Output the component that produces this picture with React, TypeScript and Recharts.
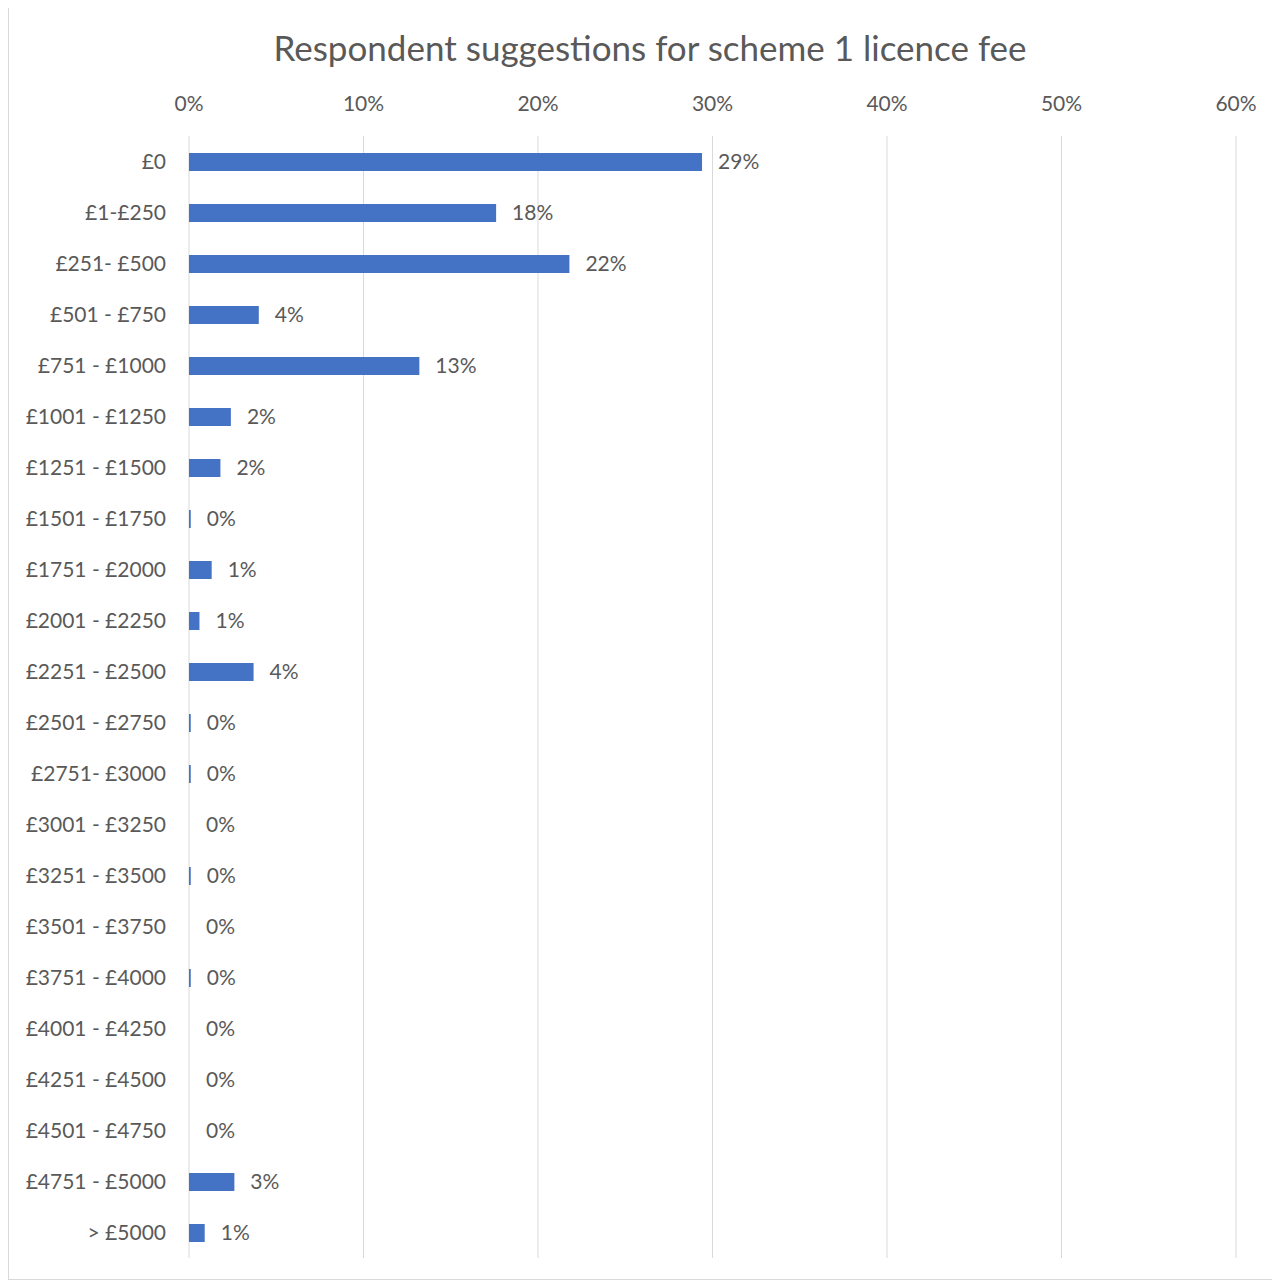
import { BarChart, Bar, XAxis, YAxis, CartesianGrid, LabelList, Cell } from "recharts";

const categories = [
  "£0",
  "£1-£250",
  "£251- £500",
  "£501 - £750",
  "£751 - £1000",
  "£1001 - £1250",
  "£1251 - £1500",
  "£1501 - £1750",
  "£1751 - £2000",
  "£2001 - £2250",
  "£2251 - £2500",
  "£2501 - £2750",
  "£2751- £3000",
  "£3001 - £3250",
  "£3251 - £3500",
  "£3501 - £3750",
  "£3751 - £4000",
  "£4001 - £4250",
  "£4251 - £4500",
  "£4501 - £4750",
  "£4751 - £5000",
  "> £5000",
];

// percent of respondents
const shares = [
  29.4, 17.6, 21.8, 4.0, 13.2, 2.4, 1.8, 0.1, 1.3, 0.6, 3.7, 0.1, 0.1, 0, 0.1, 0,
  0.1, 0, 0, 0, 2.6, 0.9,
];

const xTicks = [0, 10, 20, 30, 40, 50, 60];

const data = categories.map((name, i) => ({ name, share: shares[i] }));

const FONT = "Lato, 'Open Sans', sans-serif";
const TEXT = "#595959";

export default function App() {
  return (
    <div
      style={{
        position: "relative",
        marginTop: -3,
        width: 1270,
        height: 1273,
        border: "1px solid #d9d9d9",
        background: "#fff",
        fontFamily: FONT,
      }}
    >
      <div
        style={{
          position: "absolute",
          top: 20,
          left: 0,
          width: 1282,
          textAlign: "center",
          fontSize: 35,
          color: TEXT,
          whiteSpace: "nowrap",
        }}
      >
        Respondent suggestions for scheme 1 licence fee
      </div>
      <BarChart
        width={1270}
        height={1273}
        data={data}
        layout="vertical"
        margin={{ top: 90, right: 43, bottom: 21, left: 0 }}
        barSize={18}
      >
        <CartesianGrid horizontal={false} stroke="#d9d9d9" />
        <XAxis
          type="number"
          orientation="top"
          domain={[0, 60]}
          ticks={xTicks}
          tickFormatter={(v) => `${v}%`}
          axisLine={false}
          tickLine={false}
          tickSize={0}
          tickMargin={25}
          height={40}
          tick={{ fontSize: 21, fill: TEXT, fontFamily: FONT }}
        />
        <YAxis
          type="category"
          dataKey="name"
          width={180}
          axisLine={false}
          tickLine={false}
          tickSize={0}
          tickMargin={23}
          interval={0}
          tick={{ fontSize: 21, fill: TEXT, fontFamily: FONT }}
        />
        <Bar dataKey="share" fill="#4472C4" minPointSize={1} isAnimationActive={false}>
          {data.map((d, i) => (
            <Cell key={i} fill="#4472C4" fillOpacity={d.share === 0 ? 0 : 1} />
          ))}
          <LabelList
            dataKey="share"
            position="right"
            offset={16}
            formatter={(v: number) => `${Math.round(v)}%`}
            style={{ fontSize: 21, fill: TEXT, fontFamily: FONT }}
          />
        </Bar>
      </BarChart>
    </div>
  );
}
